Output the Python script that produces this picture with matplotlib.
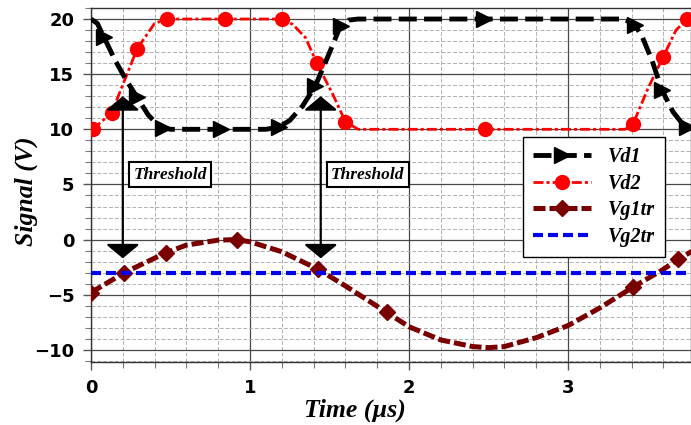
import matplotlib
matplotlib.use("Agg")
import matplotlib.pyplot as plt
from matplotlib.ticker import MultipleLocator, FuncFormatter

# ---------------- data ----------------
vd1_t = [0, 0.04, 0.08, 0.15, 0.22, 0.29, 0.36, 0.42, 0.45, 0.5, 0.82, 1.1, 1.18, 1.25,
         1.33, 1.41, 1.49, 1.57, 1.62, 1.68, 2.47, 3.35, 3.42, 3.47, 3.53, 3.59, 3.66,
         3.72, 3.75, 3.8]
vd1_v = [20, 19.6, 18.4, 16.3, 14.5, 12.9, 11.3, 10.4, 10.15, 10, 10, 10, 10.2, 10.8,
         12.1, 13.9, 16.6, 19.4, 19.9, 20, 20, 20, 19.5, 18.3, 16.2, 13.6, 11.6,
         10.5, 10.2, 10]
vd1_marks = [2, 5, 8, 10, 12, 15, 17, 20, 22, 25, 28]

vd2_t = [0.01, 0.13, 0.29, 0.4, 0.48, 0.84, 1.2, 1.27, 1.35, 1.42, 1.52, 1.6, 1.68,
         2.48, 3.36, 3.41, 3.5, 3.6, 3.68, 3.75, 3.8]
vd2_v = [10, 11.5, 17.3, 19.6, 20, 20, 20, 19.5, 18.3, 16, 13.2, 10.7, 10, 10, 10,
         10.5, 13.6, 16.6, 19.0, 20, 20]
vd2_marks = [0, 1, 2, 4, 5, 6, 9, 11, 13, 15, 17, 19]

vg1_t = [0, 0.21, 0.47, 0.6, 0.8, 0.92, 1.0, 1.2, 1.43, 1.6, 1.86, 2.0, 2.2, 2.4, 2.5,
         2.6, 2.8, 3.0, 3.2, 3.41, 3.6, 3.69, 3.8]
vg1_v = [-4.8, -3.0, -1.2, -0.5, -0.05, 0, -0.2, -1.1, -2.7, -4.2, -6.6, -7.9, -9.1,
         -9.7, -9.8, -9.7, -8.9, -7.8, -6.2, -4.3, -2.7, -1.8, -0.9]
vg1_marks = [0, 1, 2, 5, 8, 10, 19, 21]

vg2_t = [0, 3.8]
vg2_v = [-3, -3]

threshold_t = [0.2, 1.445]
threshold_top = 13.0
threshold_bottom = -1.7
threshold_label_t = [0.497, 1.74]
threshold_label_v = 5.9
series_labels = ["Vd1", "Vd2", "Vg1tr", "Vg2tr"]

# ---------------- figure ----------------
serif = "Liberation Serif"
fig = plt.figure(figsize=(6.91, 4.25), dpi=100)
ax = fig.add_axes([91 / 691, 1 - 362 / 425, 1 - 91 / 691, (362 - 8) / 425])

ax.set_xlim(0, 3.774)
ax.set_ylim(-11.1, 21.0)

ax.xaxis.set_major_locator(MultipleLocator(1))
ax.xaxis.set_minor_locator(MultipleLocator(0.2))
ax.yaxis.set_major_locator(MultipleLocator(5))
ax.yaxis.set_minor_locator(MultipleLocator(1))

ax.grid(which="major", color="#484848", lw=0.9, ls="-", zorder=0)
ax.grid(which="minor", color="#b0b0b0", lw=0.7, ls=(0, (4, 2)), zorder=0)
ax.set_axisbelow(True)

ax.tick_params(which="major", direction="out", length=6, width=1, color="#555555",
               labelsize=13, pad=6)
ax.tick_params(which="minor", direction="out", length=4, width=0.8, color="#777777")
ax.yaxis.set_major_formatter(FuncFormatter(lambda v, p: f"{int(v)}".replace("-", "\u2212")))
ax.xaxis.set_major_formatter(FuncFormatter(lambda v, p: f"{int(v)}"))
plt.setp(ax.get_xticklabels(which="major"), fontweight="bold")
plt.setp(ax.get_yticklabels(which="major"), fontweight="bold")

for s in ax.spines.values():
    s.set_color("#333333")
    s.set_linewidth(1.0)

l1, = ax.plot(vd1_t, vd1_v, color="black", lw=3.5, dashes=(3.7, 1.5),
              marker=">", markersize=11, markevery=vd1_marks, zorder=4,
              label=series_labels[0])
l2, = ax.plot(vd2_t, vd2_v, color="#ff0000", lw=2.0, dashes=(3.6, 1.1, 1.1, 1.1),
              marker="o", markersize=10, markevery=vd2_marks, zorder=3,
              label=series_labels[1])
l3, = ax.plot(vg1_t, vg1_v, color="#7a0000", lw=3.6, dashes=(2.4, 0.8),
              marker="D", markersize=8.5, markevery=vg1_marks, zorder=3,
              label=series_labels[2])
l4, = ax.plot(vg2_t, vg2_v, color="#0000ee", lw=3.0, dashes=(2.4, 1.2), zorder=3,
              label=series_labels[3])

for xt in threshold_t:
    ax.annotate("", xy=(xt, threshold_top), xytext=(xt, threshold_bottom),
                arrowprops=dict(arrowstyle="<|-|>,head_length=0.43,head_width=0.52",
                                mutation_scale=20, color="black", lw=1.6,
                                shrinkA=0, shrinkB=0),
                zorder=6)
for xl in threshold_label_t:
    ax.text(xl, threshold_label_v, "Threshold", family=serif, fontsize=12.5,
            fontweight="bold", fontstyle="italic", ha="center", va="center",
            zorder=7,
            bbox=dict(boxstyle="square,pad=0.25", fc="white", ec="black", lw=1.5))

leg = ax.legend(handles=[l1, l2, l3, l4], loc="upper left",
                bbox_to_anchor=(0.72, 0.636), borderaxespad=0, frameon=True,
                fancybox=False, framealpha=1, edgecolor="black", handlelength=2.9,
                handletextpad=0.8, borderpad=0.5, labelspacing=0.33,
                prop=dict(family=serif, size=14.5, weight="bold", style="italic"))
leg.get_frame().set_linewidth(1.0)
leg.set_zorder(8)

ax.set_xlabel("Time (\u00b5s)", family=serif, fontsize=18.5, fontweight="bold",
              fontstyle="italic")
ax.set_ylabel("Signal (V)", family=serif, fontsize=18.5, fontweight="bold",
              fontstyle="italic")
ax.xaxis.set_label_coords(0.44, -0.102)
ax.yaxis.set_label_coords(-0.088, 0.483)

fig.savefig("out.png", dpi=100)
